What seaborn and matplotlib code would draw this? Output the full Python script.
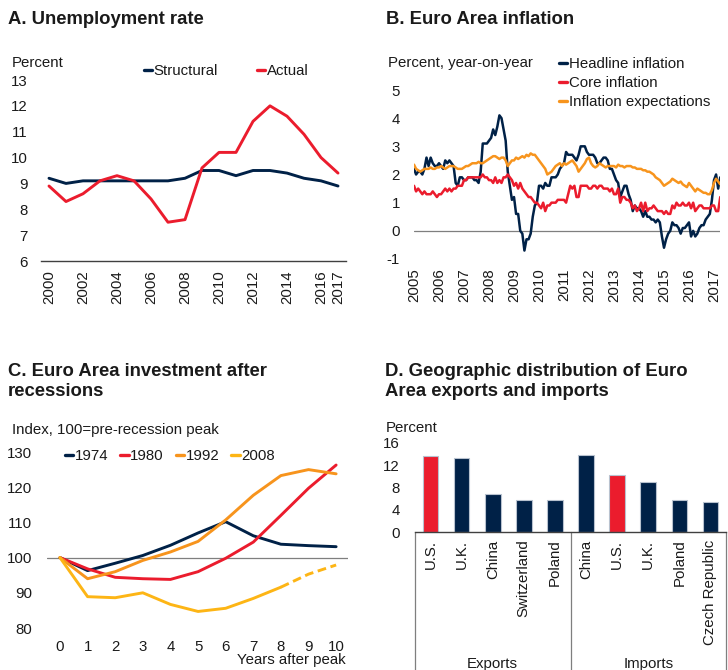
import matplotlib.pyplot as plt
import seaborn as sns
import pandas as pd
import numpy as np

# ---- colours
NAVY = "#002147"
RED = "#eb1c2d"
ORANGE = "#f7941d"
GOLD = "#fdb515"
AXIS_GRAY = "#7f7f7f"
TEXT = "#1a1a1a"

# ---- A. Unemployment rate
years_a = list(range(2000, 2018))
structural = [9.2, 9.0, 9.1, 9.1, 9.1, 9.1, 9.1, 9.1, 9.2, 9.5, 9.5, 9.3, 9.5, 9.5, 9.4, 9.2, 9.1, 8.9]
actual = [8.9, 8.3, 8.6, 9.1, 9.3, 9.1, 8.4, 7.5, 7.6, 9.6, 10.2, 10.2, 11.4, 12.0, 11.6, 10.9, 10.0, 9.4]

# ---- B. Euro Area inflation (monthly, Jan 2005 - Apr 2017)
headline = [
    2.2, 2.0, 2.1, 2.1, 2.0, 2.2, 2.6, 2.3, 2.6, 2.4, 2.3, 2.3,
    2.4, 2.3, 2.2, 2.5, 2.4, 2.5, 2.4, 2.3, 1.7, 1.6, 1.9, 1.9,
    1.8, 1.8, 1.9, 1.9, 1.9, 1.8, 1.8, 1.7, 2.1, 3.1, 3.1, 3.1,
    3.2, 3.3, 3.6, 3.4, 3.7, 4.1, 4.0, 3.6, 3.2, 2.1, 1.6, 1.1,
    1.2, 0.6, 0.6, 0.0, -0.1, -0.7, -0.3, -0.3, -0.1, 0.5, 0.9, 1.0,
    1.6, 1.6, 1.5, 1.7, 1.6, 1.6, 1.9, 1.9, 1.9, 2.0, 2.2, 2.3,
    2.4, 2.8, 2.7, 2.7, 2.7, 2.6, 2.5, 2.7, 3.0, 3.0, 3.0, 2.8,
    2.7, 2.7, 2.7, 2.6, 2.4, 2.4, 2.5, 2.6, 2.6, 2.5, 2.2, 2.2,
    2.0, 1.8, 1.7, 1.2, 1.4, 1.6, 1.6, 1.3, 1.1, 0.7, 0.9, 0.8,
    0.8, 0.7, 0.5, 0.7, 0.5, 0.5, 0.4, 0.4, 0.3, 0.4, 0.3, -0.2,
    -0.6, -0.3, -0.1, 0.0, 0.3, 0.2, 0.2, 0.1, -0.1, 0.1, 0.1, 0.2,
    0.3, -0.2, 0.0, -0.2, -0.1, 0.1, 0.2, 0.2, 0.4, 0.5, 0.6, 1.1,
    1.8, 2.0, 1.5, 1.9,
]
core = [
    1.6, 1.4, 1.5, 1.4, 1.3, 1.4, 1.3, 1.3, 1.3, 1.4, 1.3, 1.2,
    1.3, 1.3, 1.4, 1.5, 1.4, 1.5, 1.4, 1.5, 1.5, 1.6, 1.6, 1.6,
    1.8, 1.8, 1.9, 1.9, 1.9, 1.9, 1.9, 1.9, 1.9, 2.0, 1.9, 1.9,
    1.8, 1.8, 1.7, 1.9, 1.7, 1.8, 1.7, 1.9, 1.9, 2.0, 1.9, 1.8,
    1.6, 1.7, 1.5, 1.7, 1.5, 1.4, 1.3, 1.2, 1.2, 1.1, 1.0, 1.0,
    0.9, 0.8, 1.0, 0.7, 0.9, 0.9, 1.0, 1.0, 1.0, 1.1, 1.1, 1.1,
    1.1, 1.0, 1.3, 1.6, 1.5, 1.6, 1.2, 1.2, 1.6, 1.6, 1.6, 1.6,
    1.5, 1.5, 1.6, 1.6, 1.5, 1.6, 1.6, 1.5, 1.5, 1.5, 1.4, 1.5,
    1.3, 1.3, 1.5, 1.0, 1.2, 1.2, 1.1, 1.1, 1.0, 0.8, 0.9, 0.7,
    0.8, 1.0, 0.7, 1.0, 0.7, 0.8, 0.8, 0.9, 0.8, 0.7, 0.7, 0.7,
    0.6, 0.7, 0.6, 0.6, 0.9, 0.8, 1.0, 0.9, 0.9, 1.0, 0.9, 0.9,
    1.0, 0.8, 1.0, 0.7, 0.8, 0.9, 0.9, 0.8, 0.8, 0.8, 0.8, 0.9,
    0.9, 0.7, 0.7, 1.2,
]
expectations = [
    2.35, 2.2, 2.15, 2.1, 2.15, 2.2, 2.2, 2.2, 2.25, 2.2, 2.2, 2.25,
    2.25, 2.3, 2.25, 2.2, 2.25, 2.3, 2.3, 2.3, 2.25, 2.2, 2.2, 2.2,
    2.25, 2.3, 2.3, 2.35, 2.4, 2.4, 2.4, 2.45, 2.4, 2.4, 2.45, 2.5,
    2.55, 2.6, 2.65, 2.65, 2.6, 2.55, 2.6, 2.6, 2.5, 2.3, 2.4, 2.5,
    2.5, 2.6, 2.55, 2.6, 2.65, 2.6, 2.7, 2.65, 2.75, 2.7, 2.7, 2.6,
    2.5, 2.4, 2.3, 2.2, 2.0, 2.05, 2.1, 2.2, 2.3, 2.35, 2.4, 2.3,
    2.4, 2.35, 2.4, 2.45, 2.5, 2.4, 2.3, 2.1, 2.2, 2.3, 2.4, 2.55,
    2.6, 2.4, 2.3, 2.25, 2.3, 2.4, 2.35, 2.3, 2.25, 2.3, 2.3, 2.3,
    2.3, 2.25, 2.35, 2.3, 2.3, 2.25, 2.3, 2.3, 2.3, 2.25, 2.25, 2.2,
    2.2, 2.2, 2.15, 2.15, 2.1, 2.1, 2.05, 2.0, 1.9, 1.85, 1.8, 1.7,
    1.6, 1.65, 1.7, 1.75, 1.85, 1.8, 1.75, 1.7, 1.75, 1.65, 1.6, 1.55,
    1.7, 1.6, 1.5, 1.4, 1.5, 1.45, 1.4, 1.35, 1.35, 1.3, 1.3, 1.45,
    1.7, 1.85, 1.75, 1.65,
]
months_b = 2005 + np.arange(len(headline)) / 12

# ---- C. Euro Area investment after recessions
years_after = list(range(0, 11))
inv_1974 = [100, 96.3, 98.4, 100.6, 103.5, 107.0, 110.2, 106.2, 103.8, 103.4, 103.1]
inv_1980 = [100, 96.8, 94.4, 94.0, 93.8, 96.0, 99.8, 104.4, 112.0, 119.7, 126.3]
inv_1992 = [100, 94.0, 96.0, 99.2, 101.6, 104.6, 110.7, 117.7, 123.3, 125.0, 123.8]
inv_2008 = [100, 88.9, 88.6, 90.0, 86.7, 84.7, 85.6, 88.4, 91.6]
years_2008_proj = [8, 9, 10]
inv_2008_proj = [91.6, 95.3, 97.9]

# ---- D. Geographic distribution of exports and imports
export_countries = ["U.S.", "U.K.", "China", "Switzerland", "Poland"]
export_share = [13.6, 13.3, 6.9, 5.8, 5.8]
import_countries = ["China", "U.S.", "U.K.", "Poland", "Czech Republic"]
import_share = [13.8, 10.3, 8.9, 5.8, 5.4]

W, H = 728, 670
sns.set_theme(style="white")
plt.rcParams["font.family"] = ["Liberation Sans", "DejaVu Sans"]
plt.rcParams["axes.unicode_minus"] = False
plt.rcParams["text.color"] = TEXT
plt.rcParams["xtick.color"] = TEXT
plt.rcParams["ytick.color"] = TEXT

TICK_FS = 10.8
TITLE_FS = 13.3

fig = plt.figure(figsize=(W / 100, H / 100), dpi=100)


def ax_px(left, top, right, bottom):
    return fig.add_axes([left / W, 1 - bottom / H, (right - left) / W, (bottom - top) / H])


def fig_text(x, y, s, **kw):
    kw.setdefault("fontsize", TICK_FS)
    kw.setdefault("va", "center")
    return fig.text(x / W, 1 - y / H, s, **kw)


def clean(ax):
    for sp in ax.spines.values():
        sp.set_visible(False)
    ax.set_xlabel("")
    ax.set_ylabel("")


def legend_at(ax, x, y, **kw):
    leg = ax.legend(loc="center left", bbox_to_anchor=(x / W, 1 - y / H),
                    bbox_transform=fig.transFigure, frameon=False,
                    handlelength=0.55, handletextpad=0.1, borderpad=0,
                    borderaxespad=0, fontsize=TICK_FS, **kw)
    for h in leg.get_lines():
        h.set_linewidth(2.4)
    return leg


# -------------------
# A. Unemployment rate
# -------------------
ax = ax_px(41, 80, 346, 261)
sns.lineplot(x=years_a, y=structural, color=NAVY, lw=2.1, ax=ax, label="Structural")
sns.lineplot(x=years_a, y=actual, color=RED, lw=2.1, ax=ax, label="Actual")
clean(ax)
ax.spines["bottom"].set_visible(True)
ax.spines["bottom"].set_color("#404040")
ax.spines["bottom"].set_linewidth(1)
ax.set_xlim(1999.53, 2017.47)
ax.set_ylim(6, 13)
ax.set_yticks(range(6, 14))
ax.set_xticks(list(range(2000, 2017, 2)) + [2017])
ax.tick_params(axis="x", length=0, labelsize=TICK_FS, rotation=90, pad=6.5)
ax.tick_params(axis="y", length=0, labelsize=TICK_FS, pad=9.4)
legend_at(ax, 144, 71, ncol=2, columnspacing=2.6)
fig_text(8, 20, "A. Unemployment rate", fontsize=TITLE_FS, fontweight="bold")
fig_text(12, 63, "Percent")

# -------------------
# B. Euro Area inflation
# -------------------
ax = ax_px(414, 90, 720, 259)
ax.axhline(0, color=AXIS_GRAY, lw=0.9)
sns.lineplot(x=months_b, y=headline, color=NAVY, lw=1.8, ax=ax, label="Headline inflation")
sns.lineplot(x=months_b, y=core, color=RED, lw=1.8, ax=ax, label="Core inflation")
sns.lineplot(x=months_b, y=expectations, color=ORANGE, lw=1.8, ax=ax, label="Inflation expectations")
clean(ax)
ax.set_xlim(2005, 2017.24)
ax.set_ylim(-1, 5)
ax.set_yticks(range(-1, 6))
ax.set_xticks(range(2005, 2018))
ax.tick_params(axis="x", length=0, labelsize=TICK_FS, rotation=90, pad=6.5)
ax.tick_params(axis="y", length=0, labelsize=TICK_FS, pad=10)
legend_at(ax, 559, 83, ncol=1, labelspacing=0.33)
fig_text(386, 20, "B. Euro Area inflation", fontsize=TITLE_FS, fontweight="bold")
fig_text(388, 63, "Percent, year-on-year")

# -------------------
# C. Investment after recessions
# -------------------
ax = ax_px(47, 452, 348, 628)
ax.axhline(100, color=AXIS_GRAY, lw=0.9)
sns.lineplot(x=years_after, y=inv_1974, color=NAVY, lw=2.1, ax=ax, label="1974")
sns.lineplot(x=years_after, y=inv_1980, color=RED, lw=2.1, ax=ax, label="1980")
sns.lineplot(x=years_after, y=inv_1992, color=ORANGE, lw=2.1, ax=ax, label="1992")
sns.lineplot(x=years_after[:len(inv_2008)], y=inv_2008, color=GOLD, lw=2.1, ax=ax, label="2008")
sns.lineplot(x=years_2008_proj, y=inv_2008_proj, color=GOLD, lw=2.1, ax=ax,
             linestyle=(0, (3, 1.6)), legend=False)
clean(ax)
ax.set_xlim(-0.47, 10.43)
ax.set_ylim(80, 130)
ax.set_yticks(range(80, 131, 10))
ax.set_xticks(years_after)
ax.tick_params(axis="x", length=0, labelsize=TICK_FS, pad=8.6)
ax.tick_params(axis="y", length=0, labelsize=TICK_FS, pad=10.8)
legend_at(ax, 65, 456, ncol=4, columnspacing=0.8)
fig.text(8 / W, 1 - 363 / H, "C. Euro Area investment after\nrecessions", fontsize=TITLE_FS,
         fontweight="bold", va="top", linespacing=1.22)
fig_text(12, 430, "Index, 100=pre-recession peak")
fig_text(346, 660, "Years after peak", ha="right")

# -------------------
# D. Exports and imports
# -------------------
ax = ax_px(415, 443, 726, 532)
bars = pd.DataFrame({
    "key": [f"exp_{c}" for c in export_countries] + [f"imp_{c}" for c in import_countries],
    "country": export_countries + import_countries,
    "share": export_share + import_share,
})
bar_colors = [RED if c == "U.S." else NAVY for c in bars["country"]]
sns.barplot(data=bars, x="key", y="share", hue="key", palette=bar_colors, legend=False,
            width=0.5, saturation=1, edgecolor="#b8c2cf", linewidth=0.8, ax=ax)
clean(ax)
ax.spines["bottom"].set_visible(True)
ax.spines["bottom"].set_color("#404040")
ax.spines["bottom"].set_linewidth(1)
ax.set_xlim(-0.5, 9.5)
ax.set_ylim(0, 16)
ax.set_yticks(range(0, 17, 4))
ax.set_xticks(range(len(bars)))
ax.set_xticklabels(bars["country"], rotation=90)
ax.tick_params(axis="x", length=0, labelsize=TICK_FS, pad=5.5)
ax.tick_params(axis="y", length=0, labelsize=TICK_FS, pad=10.8)
trans = ax.get_xaxis_transform()
for xsep in [-0.5, 4.5, 9.5]:
    ax.plot([xsep, xsep], [0, -1.7], color=AXIS_GRAY, lw=0.9, transform=trans, clip_on=False)
for xc, name in [(2, "Exports"), (7, "Imports")]:
    ax.text(xc, (532 - 657) / 89, name, transform=trans, ha="center", va="top", fontsize=TICK_FS)
fig.text(385 / W, 1 - 363 / H, "D. Geographic distribution of Euro\nArea exports and imports",
         fontsize=TITLE_FS, fontweight="bold", va="top", linespacing=1.22)
fig_text(386, 428, "Percent")

fig.savefig("out.png", dpi=100)
